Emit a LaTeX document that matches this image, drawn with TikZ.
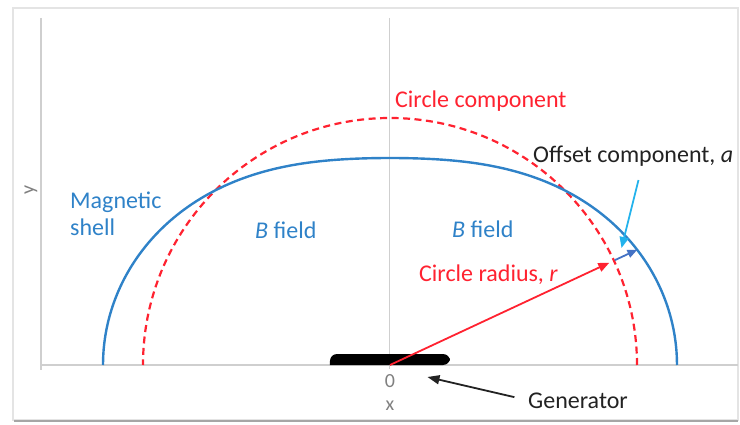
\documentclass[tikz,border=0pt]{standalone}
\usepackage{fontspec}
\setmainfont{Carlito}
\usepackage{xcolor}
\usepackage{tikz}
\usetikzlibrary{arrows.meta}
\definecolor{shellblue}{HTML}{2F82C8}
\definecolor{circred}{HTML}{FF2230}
\definecolor{offblue}{HTML}{4472C4}
\definecolor{skyblue}{HTML}{22B2EC}
\definecolor{axisgray}{HTML}{CFCFCF}
\definecolor{framegray}{HTML}{E4E4E4}
\definecolor{shadowgray}{HTML}{A6A6A6}
\definecolor{tickgray}{HTML}{808080}
\definecolor{ink}{HTML}{222222}
\tikzset{
  shell/.style ={draw=shellblue, line width=2.4pt},
  circ/.style  ={draw=circred, line width=2.2pt, dash pattern=on 7pt off 4.5pt},
  axis/.style  ={draw=axisgray, line width=1.5pt},
  lbl/.style   ={font=\fontsize{24}{27}\selectfont, inner sep=0pt},
  tck/.style   ={font=\fontsize{20}{24}\selectfont, text=tickgray, inner sep=0pt},
  rad/.style   ={draw=circred, line width=1.8pt, -{Triangle[length=11pt,width=9pt]}},
  off/.style   ={draw=offblue, line width=1.8pt, -{Triangle[length=10pt,width=8pt]}},
  sky/.style   ={draw=skyblue, line width=1.8pt, -{Triangle[length=11pt,width=9pt]}},
  ptr/.style   ={draw=ink, line width=1.8pt, -{Triangle[length=12pt,width=9pt]}},
}

\begin{document}
\begin{tikzpicture}[x=1pt,y=1pt]
  \useasboundingbox (-390,-59) rectangle (350,365);
  % frame with its shadow
  \draw[framegray, line width=1.5pt] (-377,-55) rectangle (348,357);
  \draw[shadowgray, line width=2.5pt] (-376,-56) -- (348,-56);
  % axes
  \draw[axis] (-349,347) -- (-349,-5);
  \draw[axis] (-349,0) -- (348,0);
  \draw[axisgray, line width=1pt] (0,347) -- (0,-4);
  \node[tck] (xzero) at (0,-16) {0};
  \node[tck] (xname) at (0,-41) {x};
  \node[tck, rotate=90] (yname) at (-359,175) {y};

  \coordinate (O) at (0,0);
  \draw[circ] (247,0) arc[start angle=0, end angle=180, radius=247pt];
  \draw[shell] plot[domain=0:180, samples=121, smooth] (\x:{247+40*cos(2*\x)});
  \fill[black] (-60,0) [rounded corners=7pt] -- (-60,11) -- (60,11) -- (60,0) [sharp corners] -- cycle;

  \coordinate (rtip) at (25:242);
  \coordinate (abase) at (25:248);
  \coordinate (atip) at (25:273);
  \coordinate (stail) at (248.5,185);
  \coordinate (stip) at (231.5,117);
  \coordinate (gtip) at (37.5,-12);

  \node[lbl, text=circred, anchor=base west] (circlbl) at (5,258) {Circle component};
  \node[lbl, text=ink, anchor=base west] (offlbl) at (143,203) {Offset component, \textit{a}};
  \node[lbl, text=shellblue, anchor=north west, align=left] (shelllbl) at (-320,173) {Magnetic\\shell};
  \node[lbl, text=shellblue, anchor=base west] (bleft) at (-135,127) {\textit{B} field};
  \node[lbl, text=shellblue, anchor=base west] (bright) at (62,128) {\textit{B} field};
  \node[lbl, text=circred, anchor=base west] (radlbl) at (29,84) {Circle radius, \textit{r}};
  \node[lbl, text=ink, anchor=base west] (gen) at (138,-43) {Generator};

  \draw[rad] (O) -- (rtip);
  \draw[off] (abase) -- (atip);
  \draw[sky] (stail) -- (stip);
  \draw[ptr, shorten <=14pt] (gen.west) -- (gtip);
\end{tikzpicture}
\end{document}
